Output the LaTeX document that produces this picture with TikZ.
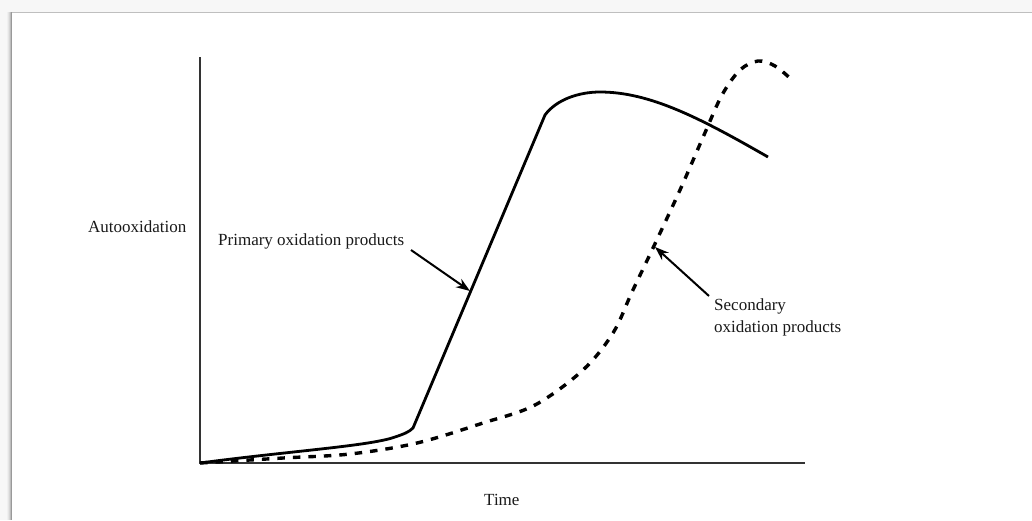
\documentclass[tikz,border=0pt]{standalone}
\usepackage{fontspec}
\setmainfont{Liberation Serif}
\usetikzlibrary{arrows.meta}
\begin{document}
\begin{tikzpicture}[x=1pt,y=-1pt,
  lbl/.style={anchor=base west,inner sep=0pt,font=\fontsize{17}{20}\selectfont,text=black!90},
  axis/.style={line width=2pt,draw=black!80},
  primary/.style={line width=2.8pt,draw=black,line join=round},
  secondary/.style={line width=3.4pt,draw=black,dash pattern=on 7.5pt off 8pt},
  pointer/.style={line width=2pt,draw=black,-{Stealth[length=14pt,width=10pt]}}]
\useasboundingbox (0,0) rectangle (1032,520);
% page frame with shadow
\fill[black!3] (0,0) rectangle (1032,520);
\fill[white] (11,12) rectangle (1032,520);
\draw[black!25,line width=1pt] (11,12.5) -- (1032,12.5);
\foreach \i/\c in {7/6,8/10,9/16,10/26,11/40}{\draw[black!\c,line width=1pt] (\i+0.5,12) -- (\i+0.5,520);}
% axes
\coordinate (O) at (200,463);
\coordinate (ytop) at (200,57);
\coordinate (xend) at (805,463);
\draw[axis] (ytop) -- (O) -- (xend);
% primary curve
\draw[primary] (O) .. controls (290,451) and (370,446) .. (395,437)
  .. controls (404,434) and (409,432) .. (413,428) -- (545,115)
  .. controls (556,100) and (578,92) .. (600,92)
  .. controls (650,92) and (700,118) .. (768,157);
% secondary curve
\draw[secondary] plot[smooth,tension=0.55] coordinates {(200,463) (283,458) (350,454) (417,443) (483,423) (535,405) (583,370) (613,333) (632,292) (653,248) (680,190) (704,135) (722,95) (740,70) (758,61) (775,66) (792,80)};
% labels
\node[lbl] (yl) at (88,232) {Autooxidation};
\node[lbl] (xl) at (484,505) {Time};
\node[lbl] (pl) at (218,245) {Primary oxidation products};
\node[lbl] (sl1) at (714,310) {Secondary};
\node[lbl] (sl2) at (714,332) {oxidation products};
% pointers
\coordinate (pa) at (411,250);
\coordinate (pb) at (470,291);
\coordinate (sa) at (709,296);
\coordinate (sb) at (655,247);
\draw[pointer] (pa) -- (pb);
\draw[pointer] (sa) -- (sb);
\end{tikzpicture}
\end{document}
